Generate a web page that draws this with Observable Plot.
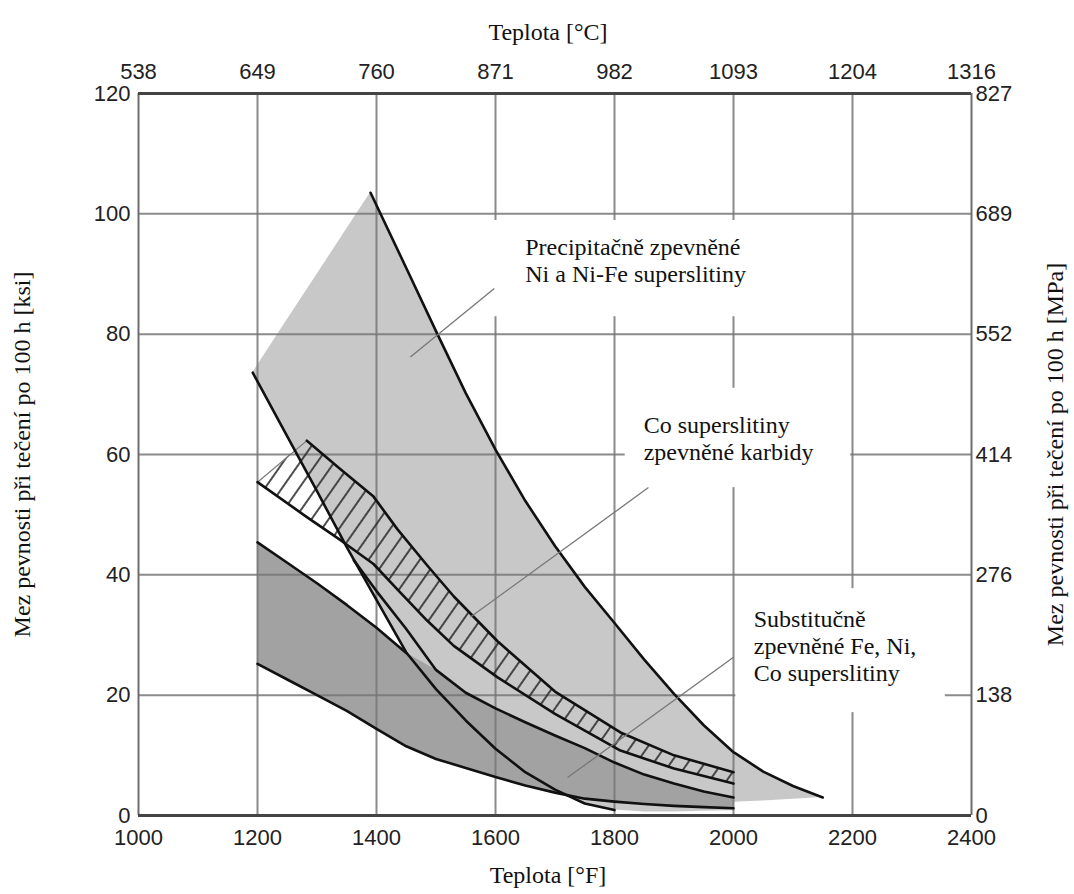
<!DOCTYPE html>
<html>
<head>
<meta charset="utf-8">
<script src="https://cdn.jsdelivr.net/npm/d3@7"></script>
<script src="https://cdn.jsdelivr.net/npm/@observablehq/plot@0.6"></script>
<style>
  html, body { margin: 0; padding: 0; background: #fff; }
  #chart svg { display: block; }
</style>
</head>
<body>
<div id="chart"></div>
<script>
// ---- axis ticks / labels ----
const fTicks = [1000, 1200, 1400, 1600, 1800, 2000, 2200, 2400];
const cLabels = ["538", "649", "760", "871", "982", "1093", "1204", "1316"];
const ksiTicks = [0, 20, 40, 60, 80, 100, 120];
const mpaLabels = ["0", "138", "276", "414", "552", "689", "827"];
const gridF = [1200, 1400, 1600, 1800, 2000, 2200];
const gridKsi = [20, 40, 60, 80, 100];

// ---- Precipitation-strengthened Ni and Ni-Fe band ----
const niF  = [1192, 1250, 1300, 1350, 1390, 1450, 1500, 1550, 1600, 1650, 1700, 1750, 1800, 1850, 1900, 1950, 2000, 2002, 2050, 2100, 2150];
const niHi = [73.6, 82.4, 89.9, 97.5, 103.5, 91.0, 80.5, 70.2, 60.8, 52.3, 44.8, 38.0, 32.0, 25.9, 20.2, 15.0, 10.5, 10.4, 7.3, 4.9, 3.0];
const niLo = [73.6, 63.0, 53.9, 44.6, 37.6, 27.1, 21.0, 15.8, 11.1, 7.2, 4.3, 2.0, 0.9, 0.6, 0.6, 0.7, 0.8, 2.2, 2.4, 2.7, 3.0];

// ---- Solid-solution strengthened Fe, Ni, Co band ----
const subF  = [1200, 1250, 1300, 1350, 1400, 1450, 1500, 1550, 1600, 1650, 1700, 1750, 1800, 1850, 1900, 1950, 2000];
const subHi = [45.4, 42.0, 38.6, 35.0, 31.2, 27.0, 24.2, 20.4, 17.8, 15.5, 13.3, 11.2, 8.8, 6.8, 5.3, 4.0, 3.0];
const subLo = [25.2, 22.6, 20.0, 17.4, 14.4, 11.5, 9.4, 7.9, 6.4, 5.0, 3.8, 2.8, 2.3, 1.9, 1.6, 1.4, 1.2];
// inner boundary leaving the Ni lower edge and running above the solid-solution band
const innerF = [1362, 1400, 1450, 1500, 1550, 1600, 1650, 1700, 1750, 1800, 1850, 1900, 1950, 2000];
const innerK = [42.4, 37.3, 31.0, 24.2, 20.4, 17.8, 15.5, 13.3, 11.2, 8.8, 6.8, 5.3, 4.0, 3.0];

// ---- Carbide-strengthened Co band (hatched) ----
const coF  = [1200, 1283, 1339, 1395, 1435, 1485, 1530, 1603, 1700, 1810, 1900, 2000];
const coHi = [55.4, 62.3, 57.6, 53.0, 47.6, 41.6, 36.4, 29.0, 20.6, 13.8, 10.0, 7.2];
const coLo = [55.4, 49.6, 45.8, 41.8, 37.6, 32.4, 28.2, 23.0, 16.9, 10.8, 7.8, 5.3];

// ---- annotations ----
const notes = ["Precipitačně zpevněné\nNi a Ni-Fe superslitiny", "Co superslitiny\nzpevněné karbidy", "Substitučně\nzpevněné Fe, Ni,\nCo superslitiny"];
const noteF = [1650, 1849, 2034];
const noteKsi = [92.4, 62.8, 28.3];
const boxF1 = [1598, 1818, 2004];
const boxF2 = [2062, 2197, 2356];
const boxLo = [82.9, 54.5, 17.1];
const boxHi = [98.9, 71.0, 37.7];
const leadF1 = [1598, 1857, 2000];
const leadK1 = [87.6, 54.5, 26.3];
const leadF2 = [1457, 1558, 1721];
const leadK2 = [76.2, 33.0, 6.3];

// tables built from the arrays
const ni = niF.map((F, i) => ({F, lo: niLo[i], hi: niHi[i]}));
const sub = subF.map((F, i) => ({F, lo: subLo[i], hi: subHi[i]}));
const co = coF.map((F, i) => ({F, lo: coLo[i], hi: coHi[i]}));
const inner = innerF.map((F, i) => ({F, k: innerK[i]}));
const niUpper = ni.slice(4);
const niLower = ni.slice(0, 13);
const subUpperLeft = sub.slice(0, 6);
const coUpper = co.slice(1);
const coLeft = co.slice(0, 2);
const notesT = notes.map((t, i) => ({t, F: noteF[i], k: noteKsi[i]}));
const boxes = boxF1.map((f, i) => ({x1: f, x2: boxF2[i], y1: boxLo[i], y2: boxHi[i]}));
const leads = leadF1.map((f, i) => ({x1: f, y1: leadK1[i], x2: leadF2[i], y2: leadK2[i]}));

const serif = "'Liberation Serif', 'Times New Roman', serif";
const black = "#111";

const svg = Plot.plot({
  width: 1074,
  height: 894,
  marginLeft: 138,
  marginRight: 103,
  marginTop: 93,
  marginBottom: 79,
  x: {domain: [1000, 2400]},
  y: {domain: [0, 120]},
  style: {fontFamily: "'Liberation Sans', Arial, sans-serif", fontSize: "22px", color: "#222", background: "#fff"},
  marks: [
    // band fills
    Plot.areaY(ni, {x: "F", y1: "lo", y2: "hi", fill: "#c8c8c8"}),
    Plot.areaY(sub, {x: "F", y1: "lo", y2: "hi", fill: "#a2a2a2"}),
    // grid
    Plot.ruleX(gridF, {stroke: "#777", strokeWidth: 2, strokeOpacity: 0.85}),
    Plot.ruleY(gridKsi, {stroke: "#777", strokeWidth: 2, strokeOpacity: 0.85}),
    // hatched Co band
    Plot.areaY(co, {x: "F", y1: "lo", y2: "hi", fill: "url(#hatch)"}),
    Plot.line(coLeft, {x: "F", y: "hi", stroke: "#777", strokeWidth: 1.2}),
    // black boundary curves
    Plot.line(niUpper, {x: "F", y: "hi", stroke: black, strokeWidth: 2.6}),
    Plot.line(niLower, {x: "F", y: "lo", stroke: black, strokeWidth: 2.6}),
    Plot.line(subUpperLeft, {x: "F", y: "hi", stroke: black, strokeWidth: 2.6}),
    Plot.line(inner, {x: "F", y: "k", stroke: black, strokeWidth: 2.6}),
    Plot.line(sub, {x: "F", y: "lo", stroke: black, strokeWidth: 2.6}),
    Plot.line(coUpper, {x: "F", y: "hi", stroke: black, strokeWidth: 2.6}),
    Plot.line(co, {x: "F", y: "lo", stroke: black, strokeWidth: 2.6}),
    // label boxes, leaders and texts
    Plot.rect(boxes, {x1: "x1", x2: "x2", y1: "y1", y2: "y2", fill: "#fff"}),
    Plot.link(leads, {x1: "x1", y1: "y1", x2: "x2", y2: "y2", stroke: "#777", strokeWidth: 1.3}),
    Plot.text(notesT, {x: "F", y: "k", text: "t", textAnchor: "start", lineAnchor: "middle", lineHeight: 1.12,
      fontFamily: serif, fontSize: 24, fill: black}),
    // frame
    Plot.ruleX([1000, 2400], {stroke: "#6e6e6e", strokeWidth: 2}),
    Plot.ruleY([0, 120], {stroke: "#444", strokeWidth: 3}),
    // axes
    Plot.axisX({anchor: "bottom", ticks: fTicks, tickFormat: d => String(d), tickSize: 0, tickPadding: 14, label: null}),
    Plot.axisX({anchor: "top", ticks: fTicks, tickFormat: d => cLabels[fTicks.indexOf(d)], tickSize: 0, tickPadding: 15, label: null}),
    Plot.axisY({anchor: "left", ticks: ksiTicks, tickFormat: d => String(d), tickSize: 0, tickPadding: 8, label: null}),
    Plot.axisY({anchor: "right", ticks: ksiTicks, tickFormat: d => mpaLabels[ksiTicks.indexOf(d)], tickSize: 0, tickPadding: 4, label: null}),
    // axis titles
    Plot.text(["Teplota [°C]"], {frameAnchor: "top", dy: -71, dx: -7, fontFamily: serif, fontSize: 24, fill: black}),
    Plot.text(["Teplota [°F]"], {frameAnchor: "bottom", dy: 67, dx: -7, fontFamily: serif, fontSize: 24, fill: black}),
    Plot.text(["Mez pevnosti při tečení po 100 h [ksi]"], {frameAnchor: "left", textAnchor: "middle", dx: -116, rotate: -90, fontFamily: serif, fontSize: 24, fill: black}),
    Plot.text(["Mez pevnosti při tečení po 100 h [MPa]"], {frameAnchor: "right", textAnchor: "middle", dx: 84, rotate: -90, fontFamily: serif, fontSize: 24, fill: black})
  ]
});

// hatch pattern for the Co band
const defs = d3.select(svg).insert("defs", ":first-child");
const pat = defs.append("pattern")
  .attr("id", "hatch")
  .attr("patternUnits", "userSpaceOnUse")
  .attr("width", 14).attr("height", 14)
  .attr("patternTransform", "rotate(35)");
pat.append("line").attr("x1", 7).attr("y1", -1).attr("x2", 7).attr("y2", 15)
  .attr("stroke", "#2e2e2e").attr("stroke-width", 1.7);

document.getElementById("chart").appendChild(svg);
</script>
</body>
</html>
